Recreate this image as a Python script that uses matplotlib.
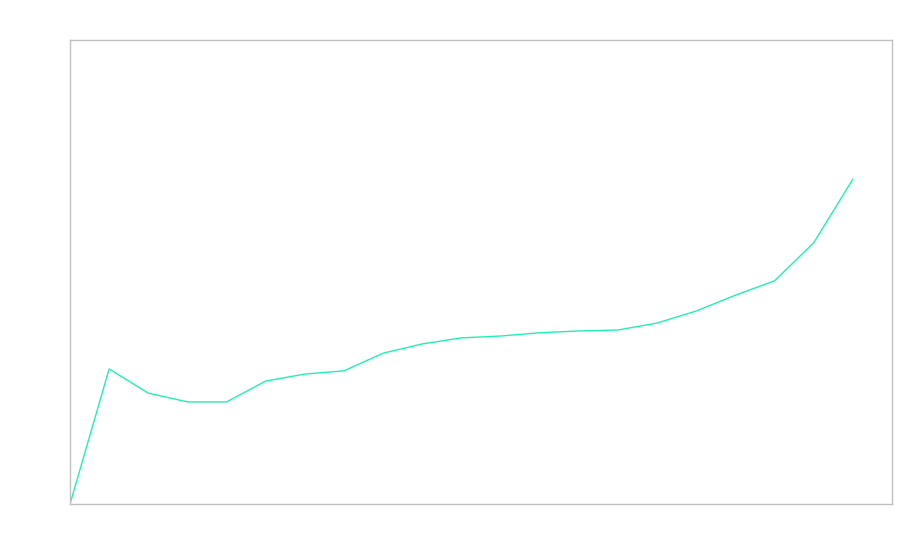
import matplotlib
matplotlib.use("Agg")
import matplotlib.pyplot as plt

# series values (index 0..20)
steps = list(range(21))
values = [0, 29.1, 23.9, 22.0, 22.0, 26.5, 28.0, 28.7, 32.5, 34.5, 35.8,
          36.2, 36.9, 37.3, 37.5, 39.0, 41.6, 45.0, 48.1, 56.3, 70.0]

fig = plt.figure(figsize=(9, 5.6), dpi=100)
ax = fig.add_axes([70 / 900, 56 / 560, 822 / 900, 464 / 560])

ax.plot(steps, values, color="#1ef0b4", linewidth=1)

ax.set_xlim(0, 21)
ax.set_ylim(0, 100)
ax.set_xticks([])
ax.set_yticks([])
for s in ax.spines.values():
    s.set_color("#c0c0c0")
    s.set_linewidth(1)

fig.savefig("out.png")
